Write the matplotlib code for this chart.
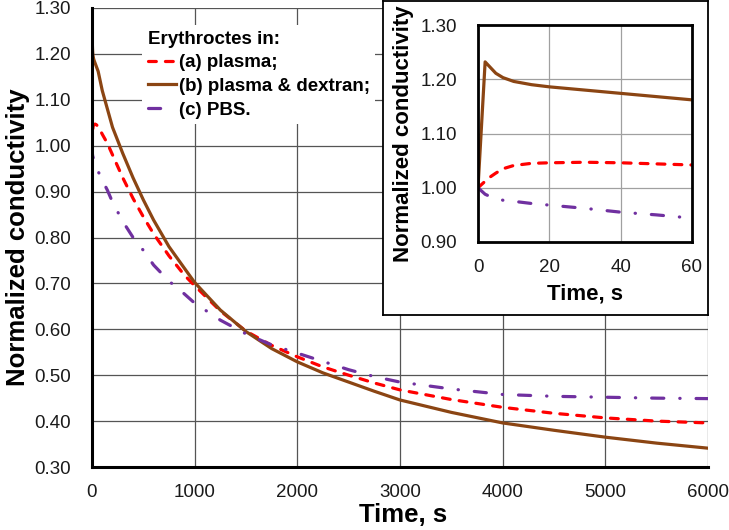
import matplotlib
matplotlib.use("Agg")
import matplotlib.pyplot as plt

plt.rcParams['font.family'] = ['Liberation Sans', 'DejaVu Sans']

# time points (s) and normalized conductivity for each suspension
TIME = [0, 2, 3, 5, 7, 10, 15, 20, 30, 40, 50, 60, 100, 150, 200, 300, 400,
        500, 600, 750, 900, 1000, 1250, 1500, 1750, 2000, 2250, 2500, 2750,
        3000, 3500, 4000, 4500, 5000, 5500, 6000]
PLASMA = [1.000, 1.012, 1.018, 1.027, 1.035, 1.041, 1.045, 1.046, 1.047, 1.046,
          1.044, 1.042, 1.025, 1.005, 0.980, 0.930, 0.885, 0.845, 0.808, 0.760,
          0.718, 0.695, 0.640, 0.596, 0.565, 0.540, 0.518, 0.500, 0.483,
          0.468, 0.447, 0.430, 0.417, 0.407, 0.400, 0.396]
DEXTRAN = [1.000, 1.232, 1.225, 1.211, 1.203, 1.196, 1.190, 1.186, 1.180, 1.174,
           1.168, 1.162, 1.120, 1.080, 1.040, 0.983, 0.930, 0.882, 0.838, 0.780,
           0.733, 0.702, 0.642, 0.595, 0.558, 0.529, 0.505, 0.485, 0.465,
           0.446, 0.419, 0.396, 0.380, 0.365, 0.352, 0.341]
PBS = [1.000, 0.988, 0.985, 0.980, 0.977, 0.975, 0.971, 0.968, 0.962, 0.955,
       0.950, 0.944, 0.925, 0.903, 0.877, 0.835, 0.800, 0.772, 0.740, 0.705,
       0.677, 0.657, 0.620, 0.590, 0.566, 0.548, 0.530, 0.512, 0.497,
       0.485, 0.470, 0.458, 0.454, 0.452, 0.450, 0.449]

LABELS = ['(a) plasma;', '(b) plasma & dextran;', '(c) PBS.']
COLORS = ['#ff0000', '#8b4513', '#7030a0']

MAIN_YTICKS = [0.30, 0.40, 0.50, 0.60, 0.70, 0.80, 0.90, 1.00, 1.10, 1.20, 1.30]
MAIN_XTICKS = [0, 1000, 2000, 3000, 4000, 5000, 6000]
INSET_YTICKS = [0.90, 1.00, 1.10, 1.20, 1.30]
INSET_XTICKS = [0, 20, 40, 60]

LW = 2.3


def draw_series(ax, with_labels):
    lab = LABELS if with_labels else [None] * 3
    ax.plot(TIME, PLASMA, color=COLORS[0], lw=LW, dashes=(2.45, 2.85),
            dash_capstyle='round', label=lab[0], zorder=3)
    ax.plot(TIME, DEXTRAN, color=COLORS[1], lw=LW, label=lab[1], zorder=3)
    ax.plot(TIME, PBS, color=COLORS[2], lw=LW, dashes=(3.8, 5.0, 0.1, 5.0),
            dash_capstyle='round', label=lab[2], zorder=3)


fig = plt.figure(figsize=(7.29, 5.30), dpi=100)

# ---------------------------------------------------------------- main chart
ax = fig.add_axes([92 / 729, 63 / 530, 616 / 729, 459 / 530])
draw_series(ax, True)
ax.set_xlim(0, 6000)
ax.set_ylim(0.30, 1.30)
ax.set_xticks(MAIN_XTICKS)
ax.set_yticks(MAIN_YTICKS)
ax.set_yticklabels([f"{v:.2f}" for v in MAIN_YTICKS])
ax.grid(True, color='#555555', lw=0.9, zorder=0)
ax.set_axisbelow(True)
for s in ['top', 'right']:
    ax.spines[s].set_visible(False)
for s in ['left', 'bottom']:
    ax.spines[s].set_linewidth(2.2)
    ax.spines[s].set_zorder(4)
ax.tick_params(axis='both', length=0, labelsize=13.5, colors='#1a1a1a')
ax.tick_params(axis='y', pad=15)
ax.tick_params(axis='x', pad=12)
ax.set_xlabel('Time, s', fontsize=18.5, fontweight='bold')
ax.set_ylabel('Normalized conductivity', fontsize=18.5, fontweight='bold')
ax.xaxis.set_label_coords(0.505, -0.078)
ax.yaxis.set_label_coords(-0.10, 0.5)

leg = ax.legend(loc='upper left', bbox_to_anchor=(142 / 729, 505 / 530),
                bbox_transform=fig.transFigure, title='Erythroctes in:',
                alignment='left', frameon=True, fancybox=False,
                edgecolor='none', facecolor='white', framealpha=1,
                prop={'weight': 'bold', 'size': 13.5},
                title_fontproperties={'weight': 'bold', 'size': 13.5},
                handlelength=1.5, handletextpad=0.15, labelspacing=0.35,
                borderpad=0.3, borderaxespad=0)
leg.set_zorder(5)

# ---------------------------------------------------------------- inset frame
frame = fig.add_axes([383 / 729, 215 / 530, 325 / 729, 314 / 530])
frame.set_xticks([])
frame.set_yticks([])
frame.set_facecolor('white')
for s in frame.spines.values():
    s.set_linewidth(1.3)
    s.set_color('black')

# ---------------------------------------------------------------- inset chart
ins = fig.add_axes([478 / 729, 288 / 530, 214 / 729, 217 / 530])
draw_series(ins, False)
ins.set_xlim(0, 60)
ins.set_ylim(0.90, 1.30)
ins.set_xticks(INSET_XTICKS)
ins.set_yticks(INSET_YTICKS)
ins.set_yticklabels([f"{v:.2f}" for v in INSET_YTICKS])
ins.grid(True, color='#a0a0a0', lw=0.9, zorder=0)
ins.set_axisbelow(True)
for s in ins.spines.values():
    s.set_linewidth(2.0)
    s.set_zorder(4)
ins.tick_params(axis='both', length=0, labelsize=13.5, colors='#1a1a1a')
ins.tick_params(axis='y', pad=15)
ins.tick_params(axis='x', pad=12)
ins.set_xlabel('Time, s', fontsize=16, fontweight='bold')
ins.set_ylabel('Normalized conductivity', fontsize=16, fontweight='bold')
ins.xaxis.set_label_coords(0.5, -0.19)
ins.yaxis.set_label_coords(-0.30, 0.5)

fig.savefig("out.png", dpi=100)
